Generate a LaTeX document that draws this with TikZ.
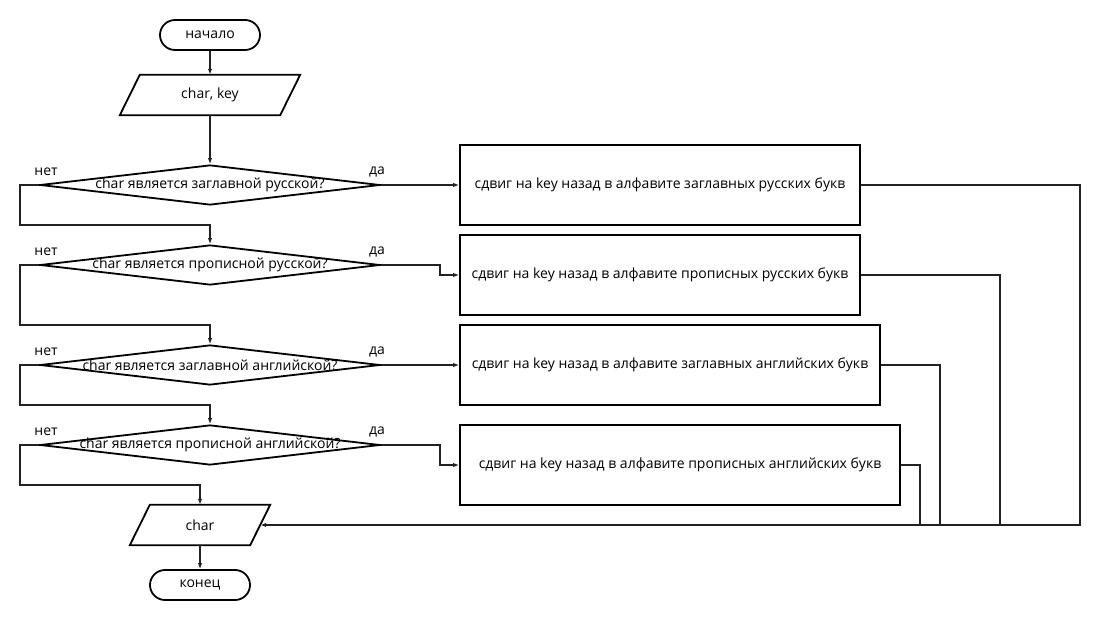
\documentclass[tikz,border=0pt]{standalone}
\usepackage{fontspec}
\setmainfont{Open Sans}
\usepackage{tikz}
\usetikzlibrary{positioning, shapes.geometric, arrows.meta, calc}
\definecolor{flowline}{HTML}{222222}

\newcommand{\dtext}[1]{\makebox[0pt]{#1}}

\begin{document}
\begin{tikzpicture}[x=1pt, y=-1pt, font=\fontsize{14}{16}\selectfont,
 shapebase/.style={draw=black, line width=1.8pt, inner sep=0pt},
 terminal/.style={shapebase, rounded corners=15pt, minimum width=100pt, minimum height=30pt},
 iobox/.style={inner sep=0pt, minimum height=40pt},
 decision/.style={shapebase, diamond, aspect=8.5, minimum width=340pt, minimum height=40pt},
 process/.style={shapebase, rectangle, minimum height=80pt},
 flow/.style={draw=flowline, line width=1.3pt, -{Latex[length=6pt,width=4.5pt]}},
 mergeline/.style={draw=flowline, line width=1.3pt},
 lbl/.style={inner sep=0pt}]
\useasboundingbox (0,0) rectangle (1100,620);

\node[terminal](start) at (210,35){начало};
\node[iobox, minimum width=160pt](in) at (210,95){char, key};
\node[decision](d1) at (210,185){\dtext{char является заглавной русской?}};
\node[decision](d2) at (210,265){\dtext{char является прописной русской?}};
\node[decision](d3) at (210,365){\dtext{char является заглавной английской?}};
\node[decision](d4) at (210,445){\dtext{char является прописной английской?}};
\node[iobox, minimum width=120pt](out) at (200,525){char};
\node[terminal](stop) at (200,585){конец};

% slanted outline of the data blocks
\foreach \n in {in,out}
  {\draw[shapebase]($(\n.north west)+(10,0)$)--($(\n.north east)+(10,0)$)
     --($(\n.south east)+(-10,0)$)--($(\n.south west)+(-10,0)$)--cycle;}

\node[process, minimum width=400pt](b1) at (660,185){сдвиг на key назад в алфавите заглавных русских букв};
\node[process, minimum width=400pt](b2) at (660,275){сдвиг на key назад в алфавите прописных русских букв};
\node[process, minimum width=420pt](b3) at (670,365){сдвиг на key назад в алфавите заглавных английских букв};
\node[process, minimum width=440pt](b4) at (680,465){сдвиг на key назад в алфавите прописных английских букв};

% yes / no labels
\foreach \d in {d1,d2,d3,d4}
  {\node[lbl](\d-no) at ($(\d.west)+(7,-13)$){нет};
   \node[lbl](\d-yes) at ($(\d.east)+(-4,-13)$){да};}

% main line
\draw[flow](start)--(in);
\draw[flow](in)--(d1);
\draw[flow](out)--(stop);

% "yes" branches
\draw[flow](d1.east)--(b1.west);
\draw[flow](d2.east)--(440,265)|-(b2.west);
\draw[flow](d3.east)--(b3.west);
\draw[flow](d4.east)--(440,445)|-(b4.west);

% "no" branches
\foreach \a/\b/\y in {d1/d2/225,d2/d3/325,d3/d4/405}
  {\draw[flow](\a.west)-|(20,\y)-|(\b.north);}
\draw[flow](d4.west)-|(20,485)-|(out.north);

% return lines
\coordinate(m4) at (920,525);
\coordinate(m3) at (940,525);
\coordinate(m2) at (1000,525);
\draw[flow](b1.east)-|(1080,525)--(out.east);
\draw[mergeline](b2.east)-|(m2);
\draw[mergeline](b3.east)-|(m3);
\draw[mergeline](b4.east)-|(m4);

\end{tikzpicture}
\end{document}
